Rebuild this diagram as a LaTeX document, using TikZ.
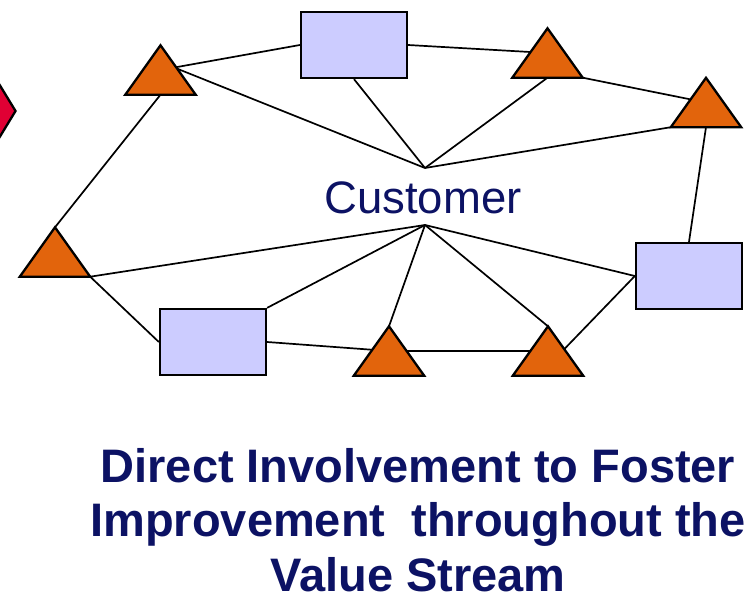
\documentclass[tikz,border=0pt]{standalone}
\usepackage{fontspec}
\setmainfont{Liberation Sans}
\usetikzlibrary{shapes.geometric,calc,backgrounds}

\definecolor{navytext}{RGB}{12,18,100}
\definecolor{trifill}{RGB}{226,100,12}
\definecolor{boxfill}{RGB}{204,204,255}
\definecolor{diamondfill}{RGB}{224,0,52}

\tikzset{
  link/.style={draw=black, line width=1.7pt},
  outline/.style={draw=black, line width=2.3pt, line join=miter},
  tri/.style={rectangle, inner sep=0pt, minimum width=70pt, minimum height=49pt},
  boxnode/.style={rectangle, outline, fill=boxfill, inner sep=0pt,
                  minimum width=106pt, minimum height=66pt},
}

\begin{document}
\begin{tikzpicture}[x=1pt, y=-1pt]
\useasboundingbox (0,0) rectangle (753,597);
\clip (0,0) rectangle (753,597);

% partly visible diamond at the left edge
\node[diamond, outline, fill=diamondfill, inner sep=0pt,
      minimum width=60pt, minimum height=98pt] (dia) at (-14,111) {};

% triangle anchors (shapes are drawn below, over the links)
\node[tri] (tTL) at (160.5,70) {};
\node[tri] (tTR) at (547.5,53) {};
\node[tri] (tR)  at (706,102.5) {};
\node[tri] (tL)  at (55,252) {};
\node[tri] (tB1) at (389,351) {};
\node[tri] (tB2) at (548,351) {};

% boxes
\node[boxnode] (bT) at (354,45) {};
\node[boxnode] (bR) at (689,276) {};
\node[boxnode] (bB) at (213,342) {};

% the two points where the customer links meet
\coordinate (hubT) at (425,168);
\coordinate (hubB) at (425,225);

\node[font=\fontsize{45.5}{50}\selectfont, text=navytext, anchor=base, inner sep=0pt]
  (cust) at (423,213) {Customer};

\begin{pgfonlayer}{background}
  \draw[link] ($(tTL.center)+(0,-8)$) -- (hubT);
  \draw[link] (tTL.center) -- (bT.west);
  \draw[link] (tTL.south) -- (tL.north);
  \draw[link] (bT.south) -- (hubT);
  \draw[link] (bT.east) -- (tTR.center);
  \draw[link] (tTR.south) -- (hubT);
  \draw[link] (tTR.south east) -- (tR.center);
  \draw[link] (tR.south west) -- (hubT);
  \draw[link] (tR.south) -- (bR.north);
  \draw[link] (tL.south east) -- (hubB);
  \draw[link] (tL.south east) -- (bB.west);
  \draw[link] (bB.north east) -- (hubB);
  \draw[link] (bB.east) -- (tB1.center);
  \draw[link] (tB1.center) -- (tB2.center);
  \draw[link] (hubB) -- (tB1.north);
  \draw[link] (hubB) -- (tB2.north);
  \draw[link] (hubB) -- (bR.west);
  \draw[link] ($(tB2.center)+(0,15)$) -- (bR.west);
\end{pgfonlayer}

% orange triangles on top of the links
\foreach \t in {tTL,tTR,tR,tL,tB1,tB2}
  \filldraw[outline, fill=trifill] (\t.south west) -- (\t.south east) -- (\t.north) -- cycle;

% caption (anchor=base sits on the last line's baseline)
\node[font=\bfseries\fontsize{47}{54.5}\selectfont, text=navytext, align=center,
      anchor=base, inner sep=0pt] (caption) at (418,591)
  {Direct Involvement to Foster\\Improvement\ \ throughout the\\Value Stream};
\end{tikzpicture}
\end{document}
